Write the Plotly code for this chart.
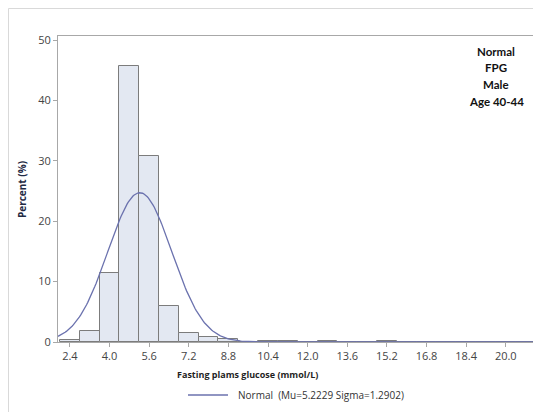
import numpy as np
import plotly.graph_objects as go

# ---- data ----
bin_centers = [2.4, 3.2, 4.0, 4.8, 5.6, 6.4, 7.2, 8.0, 8.8, 9.6, 10.4, 11.2, 12.0, 12.8,
               13.6, 14.4, 15.2, 16.0, 16.8, 17.6, 18.4, 19.2, 20.0, 20.8]
percent = [0.25, 1.75, 11.4, 45.7, 30.8, 6.0, 1.5, 0.75, 0.5, 0.08, 0.15, 0.1, 0.05, 0.2,
           0.05, 0.05, 0.2, 0.05, 0.05, 0.05, 0.05, 0.05, 0.05, 0.05]
x_tick_vals = [2.4, 4.0, 5.6, 7.2, 8.8, 10.4, 12.0, 13.6, 15.2, 16.8, 18.4, 20.0]
x_tick_text = ["2.4", "4.0", "5.6", "7.2", "8.8", "10.4", "12.0", "13.6", "15.2", "16.8", "18.4", "20.0"]
y_tick_vals = [0, 10, 20, 30, 40, 50]
mu = 5.2229
sigma = 1.2902
bin_width = 0.8
inset_lines = ["Normal", "FPG", "Male", "Age 40-44"]

# fitted normal density (scaled to percent per bin)
xs = np.linspace(1.92, 21.1, 400)
ys = 100 * bin_width * np.exp(-0.5 * ((xs - mu) / sigma) ** 2) / (sigma * np.sqrt(2 * np.pi))

# page has an 8px body margin: work in screen px, convert with offset
OFF = 8
W, H = 541 - OFF, 412 - OFF
L, T = 58 - OFF, 36 - OFF
R = 8
B = H - (342 - OFF)
pw, ph = W - L - R, H - T - B


def px_x(p):
    return (p - OFF - L) / pw


def px_y(p):
    return 1 - (p - OFF - T) / ph


fig = go.Figure()
fig.add_trace(go.Bar(
    x=bin_centers, y=percent, width=bin_width,
    marker=dict(color="#e3e8f2", line=dict(color="#7c7c7c", width=1)),
    showlegend=False, hoverinfo="x+y",
))
fig.add_trace(go.Scatter(
    x=xs, y=ys, mode="lines",
    line=dict(color="#6b72ae", width=1.3),
    name="Normal  (Mu=5.2229 Sigma=1.2902)",
    showlegend=False,
))

fig.update_layout(
    width=W, height=H,
    margin=dict(l=L, r=R, t=T, b=B, autoexpand=False),
    paper_bgcolor="white", plot_bgcolor="white",
    font=dict(family="Open Sans, DejaVu Sans, sans-serif", size=11, color="#444"),
    bargap=0,
    xaxis=dict(
        range=[1.92, 21.1], tickvals=x_tick_vals, ticktext=x_tick_text,
        showline=True, linecolor="#a8a8a8", linewidth=1, mirror=True,
        ticks="outside", ticklen=4, tickcolor="#a8a8a8",
        showgrid=False, zeroline=False, automargin=False,
        tickfont=dict(size=11, color="#444"),
    ),
    yaxis=dict(
        range=[0, 50.7], tickvals=y_tick_vals,
        showline=True, linecolor="#a8a8a8", linewidth=1, mirror=True,
        ticks="outside", ticklen=4, tickcolor="#a8a8a8",
        showgrid=False, zeroline=False, automargin=False,
        tickfont=dict(size=11, color="#444"),
    ),
)

annotations = []
annotations.append(dict(
    text="<b>Percent (%)</b>", x=px_x(22), y=px_y(190), xref="paper", yref="paper",
    xanchor="center", yanchor="middle",
    showarrow=False, textangle=-90, font=dict(size=10, color="#1f2a44"),
))
annotations.append(dict(
    text="<b>Fasting plams glucose (mmol/L)</b>", x=px_x(247), y=px_y(374),
    xref="paper", yref="paper", xanchor="center", yanchor="middle",
    showarrow=False, font=dict(size=9, color="#1f1f1f"),
))
annotations.append(dict(
    text="Normal  (Mu=5.2229 Sigma=1.2902)", x=px_x(236), y=px_y(395),
    xref="paper", yref="paper", xanchor="left", yanchor="middle", showarrow=False,
    font=dict(size=10, color="#333"),
))
for i, t in enumerate(inset_lines):
    annotations.append(dict(
        text="<b>" + t + "</b>", x=px_x(496), y=px_y(51 + i * 16.7),
        xref="paper", yref="paper", xanchor="center", yanchor="middle",
        showarrow=False,
        font=dict(family="Lato, Open Sans, sans-serif", size=11.5, color="#111"),
    ))
fig.update_layout(annotations=annotations)

shapes = [
    dict(type="line", xref="paper", yref="paper", x0=px_x(188), x1=px_x(228),
         y0=px_y(395), y1=px_y(395), line=dict(color="#6b72ae", width=1.3)),
    dict(type="line", xref="paper", yref="paper", x0=px_x(8.5), x1=px_x(8.5),
         y0=px_y(8.5), y1=px_y(420), line=dict(color="#d9d9d9", width=1)),
    dict(type="line", xref="paper", yref="paper", x0=px_x(8.5), x1=px_x(545),
         y0=px_y(8.5), y1=px_y(8.5), line=dict(color="#d9d9d9", width=1)),
]
fig.update_layout(shapes=shapes)

fig.write_html("out.html")
